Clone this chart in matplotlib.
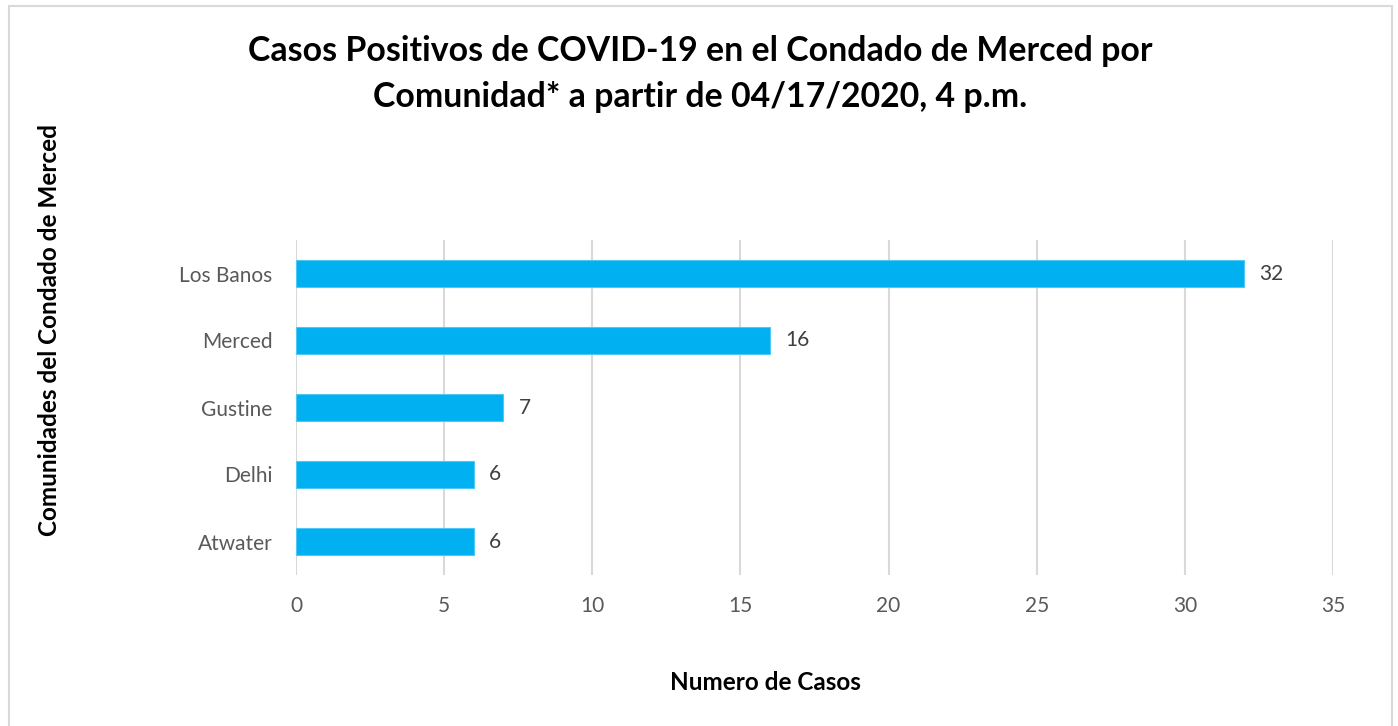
import matplotlib
matplotlib.use("Agg")
import matplotlib.pyplot as plt
from matplotlib.patches import Rectangle

categories = ["Atwater", "Delhi", "Gustine", "Merced", "Los Banos"]
values = [6, 6, 7, 16, 32]
xticks = [0, 5, 10, 15, 20, 25, 30, 35]

title = "Casos Positivos de COVID-19 en el Condado de Merced por\nComunidad* a partir de 04/17/2020, 4 p.m."
xlabel = "Numero de Casos"
ylabel = "Comunidades del Condado de Merced"

W, H = 1398, 726
fig = plt.figure(figsize=(W / 100, H / 100), dpi=100)
fig.patch.set_facecolor("white")
font = "Lato"

ax = fig.add_axes([296 / W, 1 - 575 / H, (1333 - 296) / W, (575 - 240) / H])
ypos = list(range(len(categories)))
ax.barh(ypos, values, height=0.4, color="#00B0F0", edgecolor="#4FC8F5", linewidth=0.8, zorder=3)
ax.set_xlim(0, 35)
ax.set_ylim(-0.5, len(categories) - 0.5)
ax.set_xticks(xticks)
ax.set_xticklabels([str(t) for t in xticks], fontsize=15, color="#595959", family=font)
ax.set_yticks(ypos)
ax.set_yticklabels(categories, fontsize=15, color="#595959", family=font)
ax.tick_params(axis="both", length=0)
ax.tick_params(axis="x", pad=15)
ax.tick_params(axis="y", pad=17)
for s in ax.spines.values():
    s.set_visible(False)
ax.grid(axis="x", color="#D9D9D9", linewidth=1.5, zorder=0)
ax.set_axisbelow(True)

for y, v in zip(ypos, values):
    ax.annotate(str(v), (v, y), xytext=(11, 0), textcoords="offset points",
                va="center", ha="left", fontsize=15, color="#404040", family=font)

fig.text(700 / W, 1 - 74 / H, title, ha="center", va="center", fontsize=24.4,
         fontweight="bold", family=font, color="black", linespacing=1.55)
fig.text(765 / W, 1 - 683 / H, xlabel, ha="center", va="center", fontsize=17.5,
         fontweight="bold", family=font, color="black")
fig.text(50 / W, 1 - 330 / H, ylabel, ha="center", va="center", rotation=90,
         fontsize=17.5, fontweight="bold", family=font, color="black")

fig.add_artist(Rectangle((9 / W, -0.01), (1392 - 9) / W, 1 - 6 / H + 0.01,
                         transform=fig.transFigure, fill=False,
                         edgecolor="#D9D9D9", linewidth=1.5))

fig.savefig("out.png", dpi=100)
